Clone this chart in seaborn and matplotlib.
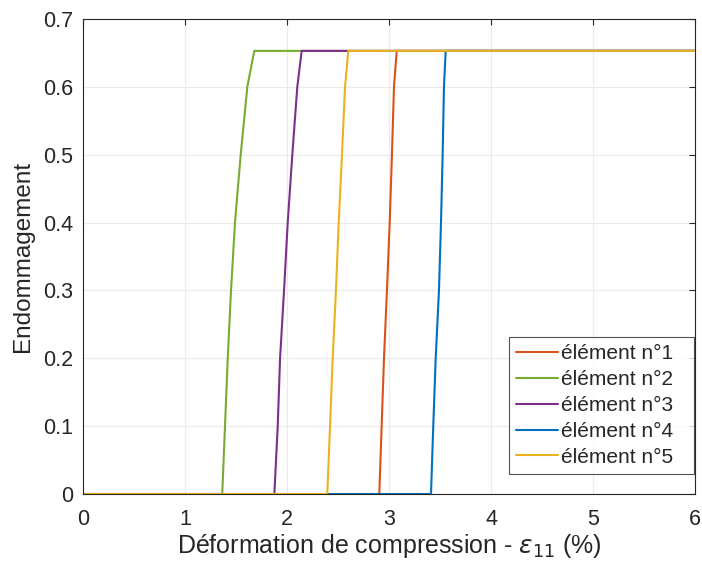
import numpy as np
import pandas as pd
import matplotlib
matplotlib.use("Agg")
import matplotlib.pyplot as plt
import seaborn as sns

# damage level reached by all elements
d_max = 0.653

# strain (%) / damage points for each element
labels = ['élément n°1', 'élément n°2', 'élément n°3', 'élément n°4', 'élément n°5']
colors = ['#D95319', '#77AC30', '#7E2F8E', '#0072BD', '#EDB120']

rise_d = [0.0, 0.1, 0.2, 0.3, 0.4, 0.5, 0.6, d_max]
rise_x1 = [2.902, 2.925, 2.948, 2.977, 3.004, 3.026, 3.046, 3.073]
rise_x2 = [1.362, 1.389, 1.416, 1.448, 1.487, 1.543, 1.608, 1.676]
rise_x3 = [1.873, 1.906, 1.929, 1.968, 2.004, 2.049, 2.098, 2.141]
rise_x4 = [3.409, 3.431, 3.455, 3.487, 3.507, 3.523, 3.536, 3.553]
rise_x5 = [2.392, 2.419, 2.445, 2.477, 2.504, 2.536, 2.566, 2.598]
x_start, x_end = 0.0, 6.0

frames = []
for lab, rx in zip(labels, [rise_x1, rise_x2, rise_x3, rise_x4, rise_x5]):
    xs = [x_start] + rx + [x_end]
    ys = [0.0] + rise_d + [d_max]
    frames.append(pd.DataFrame({'strain': xs, 'damage': ys, 'element': lab}))
df = pd.concat(frames, ignore_index=True)

sns.set_style('white')
plt.rcParams['font.family'] = ['Liberation Sans', 'DejaVu Sans']
plt.rcParams['mathtext.fontset'] = 'dejavusans'

fig = plt.figure(figsize=(7.02, 5.67), dpi=100)
ax = fig.add_axes([0.1187, 0.1287, 0.8717, 0.8378])

sns.lineplot(data=df, x='strain', y='damage', hue='element', palette=colors,
             hue_order=labels, estimator=None, sort=False, linewidth=1.5, ax=ax)

ax.set_xlim(0, 6)
ax.set_ylim(0, 0.7)
ax.set_xticks(range(0, 7))
ax.set_yticks(np.arange(0, 0.71, 0.1))
ax.set_yticklabels(['0', '0.1', '0.2', '0.3', '0.4', '0.5', '0.6', '0.7'])
ax.grid(True, color='#ebebeb', linewidth=0.8)
ax.set_axisbelow(True)
for s in ax.spines.values():
    s.set_color('#262626')
    s.set_linewidth(0.8)
ax.tick_params(direction='in', length=4, width=0.8, top=True, right=True,
               labelsize=15.5, colors='#262626')
ax.tick_params(axis='x', pad=11)
ax.tick_params(axis='y', pad=7.5)

ax.set_xlabel(r'Déformation de compression - $\epsilon_{11}$ (%)', fontsize=18, color='#262626', labelpad=1)
ax.set_ylabel('Endommagement', fontsize=17.5, color='#262626', labelpad=6)

leg = ax.legend(loc='lower left', bbox_to_anchor=(0.6956, 0.042, 0.3023, 0.2),
                mode='expand', fontsize=15, frameon=True, fancybox=False,
                edgecolor='#262626', handlelength=2.0, borderpad=0.35,
                labelspacing=0.33, handletextpad=0.15, borderaxespad=0.0)
leg.get_frame().set_linewidth(0.8)

fig.savefig('out.png', dpi=100)
